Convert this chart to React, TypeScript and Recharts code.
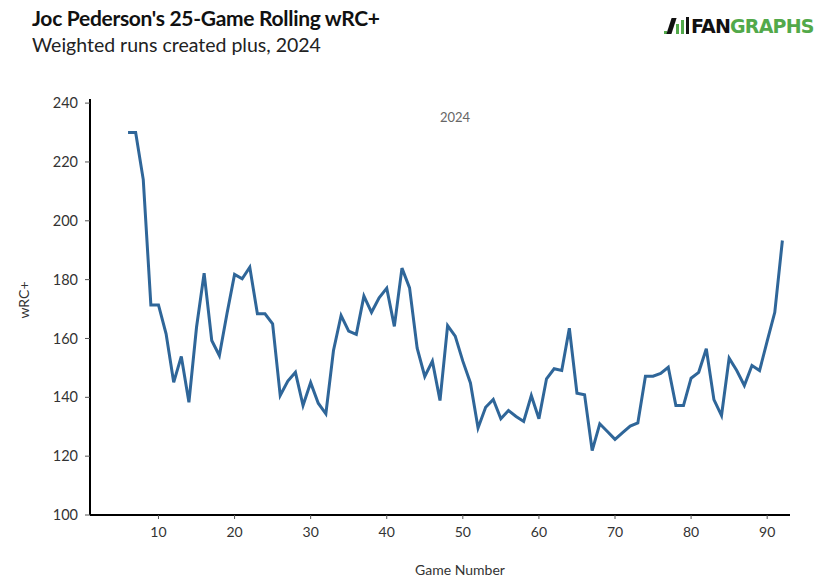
import React from "react";
import { LineChart, Line, XAxis, YAxis } from "recharts";

const games: number[] = [
  6, 7, 8, 9, 10, 11, 12, 13, 14, 15, 16, 17, 18, 19, 20, 21, 22, 23, 24, 25,
  26, 27, 28, 29, 30, 31, 32, 33, 34, 35, 36, 37, 38, 39, 40, 41, 42, 43, 44,
  45, 46, 47, 48, 49, 50, 51, 52, 53, 54, 55, 56, 57, 58, 59, 60, 61, 62, 63,
  64, 65, 66, 67, 68, 69, 70, 71, 72, 73, 74, 75, 76, 77, 78, 79, 80, 81, 82,
  83, 84, 85, 86, 87, 88, 89, 90, 91, 92,
];

const wrcPlus: number[] = [
  230, 230, 214, 171.4, 171.4, 161.6, 145.1, 153.9, 138.3, 163.8, 182.2, 159.3,
  154.2, 168.4, 181.8, 180.3, 184.2, 168.4, 168.4, 165, 140.6, 145.5, 148.5,
  137.2, 145, 138, 134.4, 155.9, 167.8, 162.5, 161.4, 174.4, 168.9, 173.8,
  177.1, 164.1, 183.9, 177.2, 156.7, 147.1, 152.3, 138.9, 164.4, 160.8, 152.3,
  144.9, 129.6, 136.6, 139.3, 132.7, 135.5, 133.5, 131.8, 140.6, 132.7, 146.3,
  149.7, 149.1, 163.5, 141.4, 140.9, 121.9, 131, 128.4, 125.7, 128, 130.2,
  131.3, 147.2, 147.2, 148.1, 150.2, 137.2, 137.2, 146.5, 148.5, 156.5, 139.2,
  133.8, 153.3, 149.1, 144, 150.8, 149.1, 159.1, 168.9, 193.3,
];

const xTicks: number[] = [10, 20, 30, 40, 50, 60, 70, 80, 90];
const yTicks: number[] = [100, 120, 140, 160, 180, 200, 220, 240];

const data = games.map((g, i) => ({ game: g, wrc: wrcPlus[i] }));

const FONT = "Lato, 'Noto Sans', sans-serif";
const GREEN = "#52a94a";

export default function App() {
  return (
    <div
      style={{
        position: "absolute",
        left: 0,
        top: 0,
        width: 834,
        height: 582,
        background: "#fff",
        fontFamily: FONT,
        overflow: "hidden",
      }}
    >
      <LineChart
        width={834}
        height={582}
        data={data}
        margin={{ top: 99, right: 44, bottom: 37, left: 0 }}
      >
        <XAxis
          dataKey="game"
          type="number"
          domain={[1, 93]}
          ticks={xTicks}
          height={30}
          axisLine={{ stroke: "#000", strokeWidth: 2 }}
          tickLine={{ stroke: "#555", strokeWidth: 1 }}
          tickSize={4}
          tickMargin={8}
          tick={{ fill: "#333", fontSize: 14, fontFamily: FONT }}
          allowDataOverflow
        />
        <YAxis
          type="number"
          domain={[100, 241.4]}
          ticks={yTicks}
          width={90}
          axisLine={{ stroke: "#000", strokeWidth: 2 }}
          tickLine={{ stroke: "#555", strokeWidth: 1 }}
          tickSize={5}
          tickMargin={7}
          tick={{ fill: "#333", fontSize: 14.5, fontFamily: FONT }}
          allowDataOverflow
        />
        <Line
          dataKey="wrc"
          type="linear"
          stroke="#2f6699"
          strokeWidth={3}
          dot={false}
          activeDot={false}
          isAnimationActive={false}
        />
      </LineChart>

      <div
        style={{
          position: "absolute",
          left: 32,
          top: 5,
          fontSize: 21,
          fontWeight: 700,
          color: "#111",
          whiteSpace: "nowrap",
          letterSpacing: -0.3,
        }}
      >
        Joc Pederson's 25-Game Rolling wRC+
      </div>
      <div
        style={{
          position: "absolute",
          left: 32,
          top: 33,
          fontSize: 19.5,
          color: "#222",
          whiteSpace: "nowrap",
        }}
      >
        Weighted runs created plus, 2024
      </div>

      <div
        style={{
          position: "absolute",
          left: 0,
          width: 834,
          top: 109,
          textAlign: "center",
          paddingLeft: 76,
          boxSizing: "border-box",
          fontSize: 13,
          color: "#666",
        }}
      >
        2024
      </div>

      <div
        style={{
          position: "absolute",
          left: 23,
          top: 300,
          transform: "translate(-50%, -50%) rotate(-90deg)",
          fontSize: 14,
          color: "#333",
          whiteSpace: "nowrap",
        }}
      >
        wRC+
      </div>

      <div
        style={{
          position: "absolute",
          left: 460,
          top: 569,
          transform: "translate(-50%, -50%)",
          fontSize: 14,
          color: "#333",
          whiteSpace: "nowrap",
        }}
      >
        Game Number
      </div>

      {/* FanGraphs logo */}
      <div style={{ position: "absolute", left: 664, top: 14, width: 160, height: 24 }}>
        <div style={{ position: "absolute", left: 0, top: 17, width: 3, height: 3, background: GREEN }} />
        <div
          style={{
            position: "absolute",
            left: 5,
            top: 4,
            width: 5,
            height: 16,
            background: "#111",
            transform: "skewX(-18deg)",
          }}
        />
        <div style={{ position: "absolute", left: 12, top: 10, width: 3, height: 10, background: GREEN }} />
        <div style={{ position: "absolute", left: 17, top: 6, width: 3, height: 14, background: GREEN }} />
        <div style={{ position: "absolute", left: 22, top: 3, width: 3, height: 17, background: "#111" }} />
        <div
          style={{
            position: "absolute",
            left: 27,
            top: 0,
            fontFamily: "'DejaVu Sans', sans-serif",
            fontWeight: 700,
            fontSize: 19,
            lineHeight: "24px",
            letterSpacing: -0.8,
            whiteSpace: "nowrap",
          }}
        >
          <span style={{ color: "#111" }}>FAN</span>
          <span style={{ color: GREEN }}>GRAPHS</span>
        </div>
      </div>
    </div>
  );
}
